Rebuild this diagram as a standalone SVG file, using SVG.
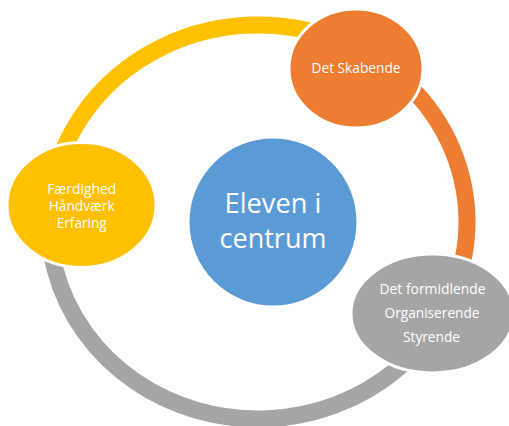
<svg xmlns="http://www.w3.org/2000/svg" width="509" height="426" viewBox="0 0 509 426">
  <style>
    .arc { fill: none; stroke-width: 17; }
    .node { stroke: #FFFFFF; stroke-width: 3; }
    .lbl { font-family: "Open Sans", "Liberation Sans", sans-serif; fill: #FFFFFF; text-anchor: middle; }
    .small { font-size: 14px; }
    .big { font-size: 28px; }
  </style>
  <rect x="0" y="0" width="509" height="426" fill="#FFFFFF"/>
  <g id="connectors">
    <path class="arc" stroke="#FFC000" d="M 49.8 204.8 A 209 197 0 0 1 362.5 51.4"/>
    <path class="arc" stroke="#ED7D31" d="M 362.5 51.4 A 209 197 0 0 1 440.8 317.5"/>
    <path class="arc" stroke="#A5A5A5" d="M 440.8 317.5 A 209 197 0 0 1 49.8 204.8"/>
  </g>
  <g id="center">
    <circle class="node" cx="273" cy="222" r="85" fill="#5B9BD5"/>
    <text class="lbl big" x="273" y="213" textLength="97" lengthAdjust="spacingAndGlyphs">Eleven i</text>
    <text class="lbl big" x="273" y="248" textLength="107" lengthAdjust="spacingAndGlyphs">centrum</text>
  </g>
  <g id="skabende">
    <ellipse class="node" cx="356" cy="68.5" rx="67" ry="59.5" fill="#ED7D31"/>
    <text class="lbl small" x="356" y="73.3" textLength="89" lengthAdjust="spacingAndGlyphs">Det Skabende</text>
  </g>
  <g id="faerdighed">
    <ellipse class="node" cx="81.5" cy="205" rx="74.5" ry="62.5" fill="#FFC000"/>
    <text class="lbl small" x="81.7" y="194" textLength="69" lengthAdjust="spacingAndGlyphs">Færdighed</text>
    <text class="lbl small" x="81.7" y="211" textLength="66" lengthAdjust="spacingAndGlyphs">Håndværk</text>
    <text class="lbl small" x="81.7" y="228" textLength="50" lengthAdjust="spacingAndGlyphs">Erfaring</text>
  </g>
  <g id="formidlende">
    <ellipse class="node" cx="432.5" cy="313.5" rx="81.5" ry="59.5" fill="#A5A5A5"/>
    <text class="lbl small" x="432.5" y="294.3" textLength="106" lengthAdjust="spacingAndGlyphs">Det formidlende</text>
    <text class="lbl small" x="432" y="318.3" textLength="95" lengthAdjust="spacingAndGlyphs">Organiserende</text>
    <text class="lbl small" x="431.5" y="341.7" textLength="57" lengthAdjust="spacingAndGlyphs">Styrende</text>
  </g>
</svg>
